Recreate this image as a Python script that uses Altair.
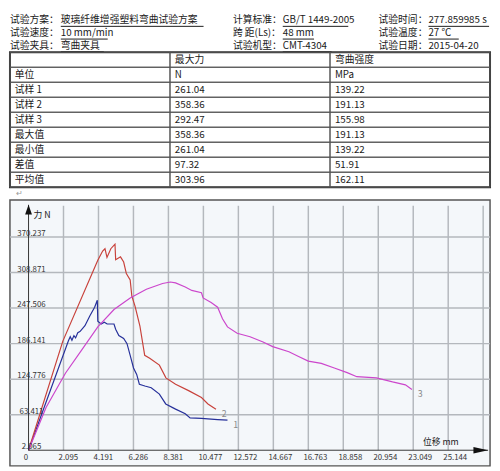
import altair as alt
import pandas as pd

FONT = "Noto Sans CJK SC"
W = 491

# ---------------- header lines ----------------
hdr_label_a = ["试验方案：", "试验速度：", "试验夹具："]
hdr_value_a = ["玻璃纤维增强塑料弯曲试验方案", "10 mm/min", "弯曲夹具"]
hdr_label_b = ["计算标准：", "跨  距(Ls)：", "试验机型："]
hdr_value_b = ["GB/T 1449-2005", "48 mm", "CMT-4304"]
hdr_label_c = ["试验时间：", "试验温度：", "试验日期："]
hdr_value_c = ["277.859985 s", "27 ℃", "2015-04-20"]

# ---------------- result table ----------------
tbl_row_names = ["", "单位", "试样 1", "试样 2", "试样 3", "最大值", "最小值", "差值", "平均值"]
tbl_force = ["最大力", "N", "261.04", "358.36", "292.47", "358.36", "261.04", "97.32", "303.96"]
tbl_strength = ["弯曲强度", "MPa", "139.22", "191.13", "155.98", "191.13", "139.22", "51.91", "162.11"]

# ---------------- curve chart ----------------
x_ticks = [0, 2.095, 4.191, 6.286, 8.381, 10.477, 12.572, 14.667, 16.763, 18.858, 20.954, 23.049, 25.144]
x_tick_labels = ["0", "2.095", "4.191", "6.286", "8.381", "10.477", "12.572", "14.667",
                 "16.763", "18.858", "20.954", "23.049", "25.144"]
x_grid_last = 27.239
y_ticks = [2.065, 63.411, 124.776, 186.141, 247.506, 308.871, 370.237]
y_tick_labels = ["2.065", "63.411", "124.776", "186.141", "247.506", "308.871", "370.237"]

# sample 1 (blue)
s1_x = [0, 2.39, 2.50, 2.60, 2.72, 2.82, 2.95, 3.08, 3.38, 3.67, 3.96, 4.12, 4.15, 4.35, 4.54,
        4.71, 5.12, 5.22, 5.41, 5.70, 5.90, 6.09, 6.29, 6.48, 6.64, 6.97, 7.35, 7.84, 8.22,
        8.81, 9.39, 9.68, 10.36, 11.33, 11.92]
s1_y = [2, 191, 198, 192, 200, 196, 205, 207, 217, 234, 249, 261, 225, 220, 223,
        220, 220, 211, 200, 195, 186, 166, 144, 133, 116, 113, 110, 99, 82,
        73, 65, 58, 57, 55, 54]
# sample 2 (red)
s2_x = [0, 2.05, 4.15, 4.44, 4.58, 4.70, 4.93, 5.18, 5.22, 5.51, 5.70, 5.86, 6.09, 6.19,
        6.38, 6.67, 6.96, 7.26, 7.84, 8.23, 8.81, 9.59, 10.36, 10.75, 11.23]
s2_y = [2, 190, 330, 346, 350, 335, 350, 358, 331, 336, 327, 307, 296, 268,
        251, 217, 166, 161, 149, 127, 116, 105, 93, 82, 73]
# sample 3 (magenta)
s3_x = [0, 1.05, 2.21, 3.18, 4.15, 5.12, 6.09, 7.06, 8.03, 8.50, 8.81, 9.39, 9.78, 10.36,
        10.46, 10.94, 11.33, 11.62, 11.92, 12.50, 13.27, 14.05, 14.63, 15.60, 16.18, 16.76,
        17.54, 18.32, 19.09, 19.67, 20.84, 21.81, 22.58, 22.97]
s3_y = [2, 76, 135, 175, 215, 245, 265, 280, 290, 292.5, 291, 284, 278, 274,
        265, 257, 249, 229, 215, 204, 198, 189, 181, 172, 164, 156,
        152, 144, 136, 129, 127, 120, 115, 107]

BLUE, RED, MAG = "#26309a", "#c8413a", "#cc46cc"
GRID = "#b4b8bd"
INK = "#1a1a1a"

# ======== header chart ========
hdr_df = pd.DataFrame({"row": [0, 1, 2],
                       "la": hdr_label_a, "va": hdr_value_a,
                       "lb": hdr_label_b, "vb": hdr_value_b,
                       "lc": hdr_label_c, "vc": hdr_value_c})
hy = alt.Y("row:O", axis=None, bandPosition=0.5,
           scale=alt.Scale(type="band", paddingInner=0, paddingOuter=0))
hbase = alt.Chart(hdr_df)
hdr_layers = []
for fld, xpos in [("la", 0), ("va", 52), ("lb", 228), ("vb", 279), ("lc", 377), ("vc", 428)]:
    hdr_layers.append(
        hbase.mark_text(align="left", baseline="middle", font=FONT, fontSize=10, color=INK)
        .encode(y=hy, x=alt.value(xpos), text=f"{fld}:N"))
# underlines of filled-in values (row, start, length)
underline_spec = [(0, 52, 146), (1, 52, 48), (2, 52, 44),
                  (0, 279, 67), (1, 279, 32), (2, 279, 50),
                  (0, 428, 62), (1, 428, 31)]
for r, x0, ln in underline_spec:
    hdr_layers.append(
        hbase.transform_filter(alt.datum.row == r)
        .mark_rule(color=INK, strokeWidth=1, yOffset=6)
        .encode(y=hy, x=alt.value(x0), x2=alt.value(x0 + ln)))
header = alt.layer(*hdr_layers).properties(
    width=W, height=39, view=alt.ViewBackground(stroke="transparent"))

# ======== table chart ========
cells = []
for i, name in enumerate(tbl_row_names):
    cells.append({"row": i, "col": 0, "t": name})
    cells.append({"row": i, "col": 1, "t": tbl_force[i]})
    cells.append({"row": i, "col": 2, "t": tbl_strength[i]})
cell_df = pd.DataFrame(cells)
tx = alt.X("col:O", axis=None, scale=alt.Scale(type="band", paddingInner=0, paddingOuter=0))
ty = alt.Y("row:O", axis=None, scale=alt.Scale(type="band", paddingInner=0, paddingOuter=0))
tbase = alt.Chart(cell_df)
cell_rect = tbase.mark_rect(fill="transparent", stroke="#555", strokeWidth=1).encode(x=tx, y=ty)
cell_text = tbase.mark_text(align="left", baseline="middle", dx=5, font=FONT, fontSize=10, color=INK).encode(
    x=alt.X("col:O", axis=None, bandPosition=0,
            scale=alt.Scale(type="band", paddingInner=0, paddingOuter=0)),
    y=alt.Y("row:O", axis=None, bandPosition=0.5,
            scale=alt.Scale(type="band", paddingInner=0, paddingOuter=0)),
    text="t:N")
table = alt.layer(cell_rect, cell_text).properties(
    width=W, height=138, view=alt.ViewBackground(stroke="#333", strokeWidth=2))

# ======== spacer (paragraph mark) ========
spacer = alt.Chart(pd.DataFrame({"t": ["↵"]})).mark_text(
    align="left", baseline="middle", font=FONT, fontSize=8, color="#999").encode(
    text="t:N", x=alt.value(6), y=alt.value(7)).properties(
    width=W, height=13, view=alt.ViewBackground(stroke="transparent"))

# ======== curve chart ========
H3 = 272
x0px = 19            # y-axis position inside frame
px_per_mm = 17.07
base_px = 256        # x-axis position inside frame
px_per_N = 0.5923
YBASE = y_ticks[0]
XMIN = -x0px / px_per_mm
XMAX = (W - x0px) / px_per_mm
YMIN = YBASE - (H3 - base_px) / px_per_N
YMAX = YBASE + base_px / px_per_N
YTOP = YBASE + 250 / px_per_N
YTIP = YBASE + 251 / px_per_N
XTIP = (489 - x0px) / px_per_mm

xs = alt.Scale(domain=[XMIN, XMAX], nice=False, zero=False)
ys = alt.Scale(domain=[YMIN, YMAX], nice=False, zero=False)


def PX(f):
    return alt.X(f, type="quantitative", scale=xs, axis=None)


def PY(f):
    return alt.Y(f, type="quantitative", scale=ys, axis=None)


hgrid = alt.Chart(pd.DataFrame({"v": y_ticks[1:]})).mark_rule(color=GRID, strokeWidth=1.5).encode(
    y=PY("v"), x=alt.value(0), x2=alt.value(W))
vgrid = alt.Chart(pd.DataFrame({"v": x_ticks[1:] + [x_grid_last], "y0": YBASE, "y1": YTOP})).mark_rule(
    color=GRID, strokeWidth=1.5).encode(x=PX("v"), y=PY("y0"), y2="y1:Q")
y_axis = alt.Chart(pd.DataFrame({"x": [0.0], "y0": [YBASE], "y1": [YTIP]})).mark_rule(
    color="#333", strokeWidth=1).encode(x=PX("x"), y=PY("y0"), y2="y1:Q")
x_axis = alt.Chart(pd.DataFrame({"x0": [0.0], "x1": [XTIP], "y": [YBASE]})).mark_rule(
    color="#333", strokeWidth=1).encode(x=PX("x0"), x2="x1:Q", y=PY("y"))
arrow_up = alt.Chart(pd.DataFrame({"x": [0.0], "y": [YTIP]})).mark_point(
    shape="M0,-1L0.7,1L-0.7,1Z", filled=True, size=100, color="#111", opacity=1, yOffset=5).encode(
    x=PX("x"), y=PY("y"))
arrow_right = alt.Chart(pd.DataFrame({"x": [XTIP], "y": [YBASE]})).mark_point(
    shape="M1,0L-1,0.45L-1,-0.45Z", filled=True, size=225, color="#111", opacity=1, xOffset=-7.5).encode(
    x=PX("x"), y=PY("y"))

rows = []
for sid, xsamp, ysamp in [("1", s1_x, s1_y), ("2", s2_x, s2_y), ("3", s3_x, s3_y)]:
    for i, (a, b) in enumerate(zip(xsamp, ysamp)):
        rows.append({"s": sid, "i": i, "x": a, "y": b})
curve_df = pd.DataFrame(rows)
cscale = alt.Scale(domain=["1", "2", "3"], range=[BLUE, RED, MAG])
curves = alt.Chart(curve_df).mark_line(strokeWidth=1.2).encode(
    x=PX("x"), y=PY("y"), color=alt.Color("s:N", scale=cscale, legend=None), order="i:Q")
ends = pd.DataFrame([{"s": "1", "x": s1_x[-1], "y": s1_y[-1]},
                     {"s": "2", "x": s2_x[-1], "y": s2_y[-1]},
                     {"s": "3", "x": s3_x[-1], "y": s3_y[-1]}])
end_labels = alt.Chart(ends).mark_text(align="left", baseline="middle", dx=6, dy=5,
                                       font=FONT, fontSize=9, color="#8a8a8a").encode(
    x=PX("x"), y=PY("y"), text="s:N")

xlab = alt.Chart(pd.DataFrame({"v": x_ticks, "t": x_tick_labels, "y": YBASE})).mark_text(
    align="left", baseline="middle", dx=-5, dy=7.5, font=FONT, fontSize=8, color="#333").encode(
    x=PX("v"), y=PY("y"), text="t:N")
ylab = alt.Chart(pd.DataFrame({"v": y_ticks, "t": y_tick_labels, "x": 0.0})).mark_text(
    align="center", baseline="middle", dx=3, dy=-3, font=FONT, fontSize=8, color="#333").encode(
    x=PX("x"), y=PY("v"), text="t:N")
ytitle = alt.Chart(pd.DataFrame({"x": [0.0], "y": [YTIP], "t": ["力 N"]})).mark_text(
    align="left", baseline="middle", dx=5, dy=10, font=FONT, fontSize=9, color="#222").encode(
    x=PX("x"), y=PY("y"), text="t:N")
xtitle = alt.Chart(pd.DataFrame({"x": [XTIP], "y": [YBASE], "t": ["位移 mm"]})).mark_text(
    align="right", baseline="middle", dx=-30, dy=-8, font=FONT, fontSize=9, color="#222").encode(
    x=PX("x"), y=PY("y"), text="t:N")

plot = alt.layer(hgrid, vgrid, curves, end_labels, y_axis, x_axis, arrow_up, arrow_right,
                 xlab, ylab, ytitle, xtitle).properties(
    width=W, height=H3,
    view=alt.ViewBackground(fill="#f4f7fa", stroke="#555", strokeWidth=1.5))

chart = alt.vconcat(header, table, spacer, plot, spacing=0, bounds="flush").properties(
    padding=0, background="white")

chart.save("out.html", embed_options={"renderer": "svg", "actions": False})
